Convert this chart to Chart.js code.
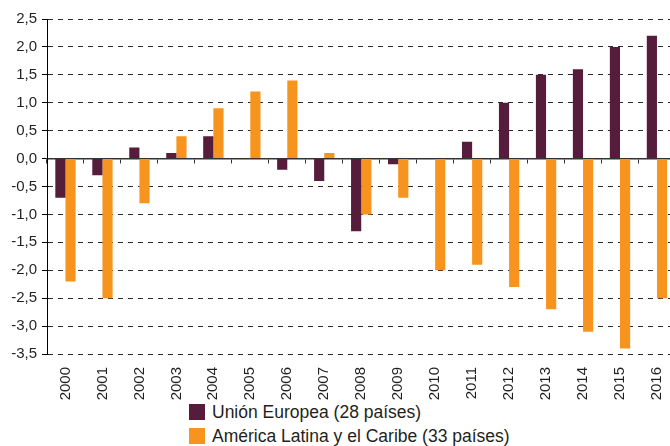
<!DOCTYPE html>
<html>
<head>
<meta charset="utf-8">
<script src="https://cdn.jsdelivr.net/npm/chart.js@4"></script>
<style>
  html, body { margin: 0; padding: 0; background: #fff; overflow: hidden; }
  #wrap { position: relative; width: 680px; height: 446px; }
  #legend { position: absolute; left: 189px; top: 404px; font-family: "Liberation Sans", Arial, sans-serif; font-size: 17.5px; color: #231f20; }
  .item { display: flex; align-items: center; height: 16px; margin-bottom: 8px; }
  .box { width: 16px; height: 16px; margin-right: 7px; }
</style>
</head>
<body>
<div id="wrap">
  <canvas id="chart" width="680" height="400"></canvas>
  <div id="legend"></div>
</div>
<script>
'use strict';

var years = ['2000', '2001', '2002', '2003', '2004', '2005', '2006', '2007', '2008',
  '2009', '2010', '2011', '2012', '2013', '2014', '2015', '2016'];

var euLabel = 'Unión Europea (28 países)';
var euValues = [-0.7, -0.3, 0.2, 0.1, 0.4, 0, -0.2, -0.4, -1.3, -0.1, 0, 0.3, 1.0, 1.5, 1.6, 2.0, 2.2];

var lacLabel = 'América Latina y el Caribe (33 países)';
var lacValues = [-2.2, -2.5, -0.8, 0.4, 0.9, 1.2, 1.4, 0.1, -1.0, -0.7, -2.0, -1.9, -2.3, -2.7, -3.1, -3.4, -2.5];

var yMin = -3.5;
var yMax = 2.5;
var yStep = 0.5;

var euColor = '#561c3b';
var lacColor = '#f7941d';

var ctx = document.getElementById('chart').getContext('2d');
var chart = new Chart(ctx, {
  type: 'bar',
  data: {
    labels: years,
    datasets: [{
      label: euLabel,
      data: euValues,
      backgroundColor: euColor,
      categoryPercentage: 0.55,
      barPercentage: 1.0
    }, {
      label: lacLabel,
      data: lacValues,
      backgroundColor: lacColor,
      categoryPercentage: 0.55,
      barPercentage: 1.0
    }]
  },
  options: {
    responsive: false,
    animation: false,
    layout: { padding: { top: 19, right: 1, left: 0, bottom: 0 } },
    plugins: {
      legend: { display: false },
      tooltip: { enabled: false }
    },
    scales: {
      x: {
        type: 'category',
        grid: { display: false },
        border: { display: false },
        ticks: {
          minRotation: 90,
          maxRotation: 90,
          padding: 5,
          color: '#231f20',
          font: { family: '"Liberation Sans", Arial, sans-serif', size: 15 }
        },
        afterFit: function (scale) { scale.height = 46; }
      },
      x2: {
        type: 'category',
        axis: 'x',
        position: { y: 0 },
        offset: true,
        grid: {
          offset: true,
          drawOnChartArea: false,
          drawTicks: true,
          tickLength: 4,
          tickColor: '#333',
          tickBorderDash: []
        },
        border: { display: true, color: '#333', width: 1.5 },
        ticks: { display: false }
      },
      y: {
        min: yMin,
        max: yMax,
        ticks: {
          stepSize: yStep,
          padding: 5,
          color: '#231f20',
          font: { family: '"Liberation Sans", Arial, sans-serif', size: 15 },
          callback: function (v) { return v.toFixed(1).replace('.', ','); }
        },
        grid: {
          color: '#2a2a2a',
          lineWidth: 1,
          tickLength: 5,
          tickColor: '#000',
          tickBorderDash: []
        },
        border: { display: true, color: '#000', width: 1, dash: [5, 5] },
        afterFit: function (scale) { scale.width = 47; }
      }
    }
  }
});

// legend below the plot, stacked like the original
var legend = document.getElementById('legend');
chart.data.datasets.forEach(function (ds) {
  var item = document.createElement('div');
  item.className = 'item';
  var box = document.createElement('span');
  box.className = 'box';
  box.style.background = ds.backgroundColor;
  var txt = document.createElement('span');
  txt.textContent = ds.label;
  item.appendChild(box);
  item.appendChild(txt);
  legend.appendChild(item);
});
</script>
</body>
</html>
